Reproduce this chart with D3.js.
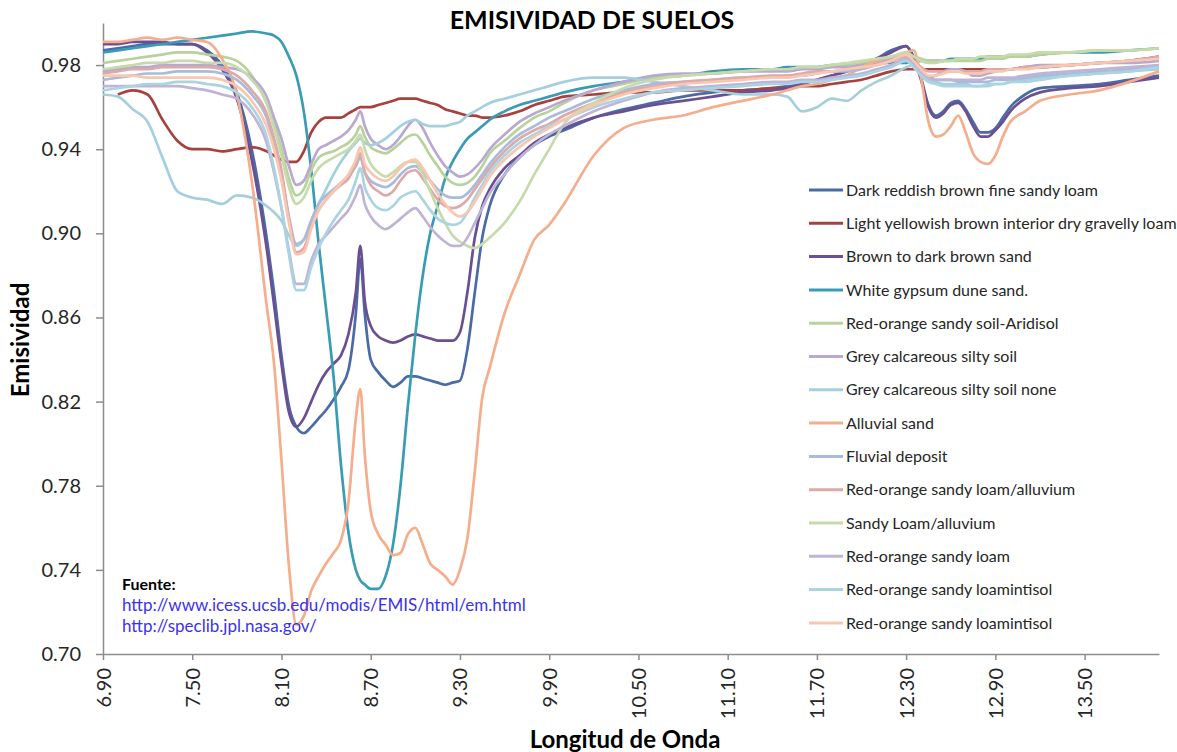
<!DOCTYPE html>
<html>
<head>
<meta charset="utf-8">
<script src="https://cdn.jsdelivr.net/npm/d3@7"></script>
<style>
  body { margin: 0; background: #fff; }
  svg { display: block; }
  text { font-family: Lato, "Open Sans", sans-serif; }
</style>
</head>
<body>
<svg width="1177" height="752"></svg>
<script>
// wavelengths (micrometres) shared by every series
const wavelength = [
  6.9, 7.0, 7.1, 7.2, 7.3, 7.4, 7.5, 7.6, 7.7, 7.8, 7.9, 8.0,
  8.05, 8.1, 8.15, 8.2, 8.25, 8.3, 8.35, 8.4, 8.45, 8.5, 8.55, 8.6, 8.63, 8.66,
  8.7, 8.75, 8.8, 8.85, 8.9, 8.95, 9.0, 9.05, 9.1, 9.15, 9.2, 9.25, 9.3, 9.35, 9.4, 9.45, 9.5,
  9.6, 9.7, 9.8, 9.9, 10.0, 10.2, 10.4, 10.6, 10.8, 11.0, 11.2, 11.4,
  11.5, 11.6, 11.7, 11.8, 11.9, 12.0, 12.1, 12.2, 12.3,
  12.35, 12.4, 12.45, 12.5, 12.55, 12.6, 12.65, 12.7, 12.75, 12.8, 12.85, 12.9, 12.95,
  13.0, 13.1, 13.2, 13.4, 13.6, 13.8, 14.0
];

const darkReddishBrown = [
  .987,.988,.989,.990,.990,.990,.990,.987,.980,.967,.940,.898,
  .872,.842,.818,.808,.805,.808,.812,.816,.821,.827,.835,.862,.888,.862,
  .840,.834,.830,.827,.829,.832,.832,.831,.830,.829,.828,.829,.830,.845,.872,.898,.913,
  .928,.936,.942,.946,.949,.955,.959,.962,.965,.967,.968,.969,
  .970,.971,.973,.975,.977,.980,.983,.987,.989,
  .984,.974,.961,.956,.958,.962,.963,.959,.953,.948,.948,.950,.955,
  .960,.966,.969,.970,.971,.973,.975
];
const lightYellowishBrown = [
  null,.966,.968,.966,.954,.944,.940,.940,.939,.940,.941,.939,
  .937,.935,.934,.934,.939,.948,.953,.955,.955,.955,.957,.959,.960,.960,
  .960,.961,.962,.963,.964,.964,.964,.963,.962,.961,.959,.958,.957,.956,.956,.955,.955,
  .956,.958,.961,.963,.965,.966,.967,.967,.968,.968,.968,.969,
  .969,.970,.970,.971,.972,.973,.975,.977,.978,
  .978,.978,.978,.978,.978,.978,.978,.978,.978,.978,.978,.978,.978,
  .978,.979,.979,.980,.981,.982,.984
];
const brownDarkSand = [
  .990,.990,.991,.991,.991,.990,.990,.986,.978,.964,.935,.893,
  .866,.838,.815,.808,.812,.820,.828,.834,.838,.842,.852,.872,.894,.868,
  .856,.851,.849,.848,.849,.851,.852,.851,.850,.849,.849,.849,.853,.872,.898,.913,.921,
  .931,.937,.943,.947,.950,.955,.958,.961,.963,.965,.967,.968,
  .969,.971,.973,.975,.977,.980,.983,.986,.989,
  .983,.973,.960,.955,.957,.961,.962,.958,.951,.946,.946,.949,.953,
  .958,.964,.967,.969,.970,.972,.974
];
const whiteGypsum = [
  .986,.987,.988,.989,.990,.991,.992,.993,.994,.995,.996,.995,
  .994,.991,.984,.975,.958,.930,.895,.864,.832,.790,.758,.740,.735,.733,
  .731,.731,.737,.752,.780,.818,.852,.880,.900,.913,.926,.934,.940,.945,.948,.951,.954,
  .958,.961,.963,.965,.967,.970,.972,.974,.975,.977,.978,.978,
  .979,.979,.979,.980,.980,.980,.981,.981,.981,
  .982,.982,.982,.982,.982,.983,.983,.983,.983,.983,.984,.984,.984,
  .984,.984,.985,.986,.986,.987,.988
];
const aridisol = [
  .981,.982,.983,.984,.985,.986,.986,.985,.984,.982,.975,.962,
  .953,.940,.926,.918,.921,.930,.936,.938,.939,.941,.943,.947,.951,.946,
  .941,.939,.938,.940,.943,.946,.947,.943,.937,.932,.927,.924,.923,.924,.927,.932,.938,
  .944,.950,.955,.958,.962,.968,.971,.974,.975,.976,.977,.978,
  .978,.979,.979,.980,.980,.981,.982,.983,.985,
  .984,.983,.982,.982,.982,.982,.982,.982,.982,.982,.983,.983,.983,
  .984,.984,.985,.986,.987,.987,.988
];
const greyCalcareous = [
  .977,.978,.979,.979,.980,.980,.980,.980,.979,.978,.974,.965,
  .955,.945,.932,.923,.925,.933,.940,.942,.944,.946,.949,.954,.958,.951,
  .945,.942,.940,.942,.946,.951,.954,.950,.943,.937,.932,.929,.927,.928,.931,.935,.940,
  .947,.953,.957,.960,.963,.968,.972,.975,.976,.976,.977,.977,
  .977,.978,.978,.979,.979,.980,.981,.983,.985,
  .982,.978,.974,.975,.977,.978,.978,.977,.975,.975,.976,.977,.978,
  .978,.979,.980,.980,.981,.981,.982
];
const greyCalcareousNone = [
  .966,.965,.959,.953,.936,.920,.917,.916,.914,.918,.917,.913,
  .910,.906,.899,.894,.897,.906,.914,.921,.928,.934,.939,.943,.945,.943,
  .942,.943,.945,.948,.951,.953,.954,.952,.951,.951,.951,.952,.953,.956,.958,.960,.962,
  .964,.966,.968,.970,.972,.974,.974,.972,.970,.968,.966,.966,
  .965,.958,.960,.964,.963,.968,.972,.975,.979,
  .980,.976,.973,.972,.971,.971,.971,.971,.970,.970,.970,.971,.971,
  .972,.973,.974,.975,.976,.977,.978
];
const alluvialSand = [
  .991,.991,.992,.993,.992,.993,.992,.991,.983,.966,.925,.866,
  .838,.792,.742,.714,.718,.730,.737,.743,.748,.754,.772,.812,.826,.795,
  .768,.757,.752,.747,.748,.757,.760,.752,.743,.740,.737,.733,.740,.755,.787,.822,.836,
  .862,.880,.897,.904,.914,.937,.950,.954,.956,.960,.963,.966,
  .968,.970,.971,.973,.975,.979,.982,.984,.986,
  .987,.974,.953,.946,.947,.951,.956,.948,.938,.934,.933,.937,.946,
  .953,.958,.963,.966,.968,.972,.977
];
const fluvialDeposit = [
  .973,.974,.975,.976,.976,.977,.977,.977,.976,.973,.966,.955,
  .943,.928,.908,.895,.897,.906,.914,.918,.921,.924,.927,.932,.936,.929,
  .925,.923,.922,.924,.928,.931,.932,.929,.925,.921,.918,.917,.917,.919,.923,.928,.933,
  .941,.947,.951,.955,.958,.964,.968,.971,.972,.973,.974,.974,
  .975,.975,.976,.977,.977,.978,.980,.982,.984,
  .981,.977,.974,.973,.973,.973,.972,.972,.972,.972,.972,.973,.973,
  .973,.974,.975,.976,.977,.978,.980
];
const loamAlluvium = [
  .976,.977,.978,.978,.979,.979,.979,.979,.978,.975,.968,.957,
  .945,.930,.907,.891,.893,.903,.911,.916,.920,.923,.926,.933,.938,.929,
  .923,.920,.918,.920,.925,.929,.930,.926,.921,.916,.913,.912,.913,.916,.921,.926,.931,
  .939,.945,.949,.952,.956,.962,.967,.970,.972,.973,.974,.975,
  .975,.976,.977,.977,.978,.979,.980,.982,.984,
  .982,.979,.977,.977,.977,.977,.977,.977,.977,.977,.978,.978,.978,
  .978,.979,.979,.980,.981,.982,.984
];
const sandyLoamAlluvium = [
  .978,.979,.980,.981,.981,.982,.982,.981,.981,.979,.973,.962,
  .950,.937,.922,.914,.917,.925,.931,.934,.936,.938,.940,.944,.947,.940,
  .933,.929,.927,.929,.932,.934,.934,.928,.920,.912,.905,.899,.896,.894,.893,.895,.898,
  .905,.915,.928,.940,.952,.962,.969,.973,.975,.976,.977,.978,
  .978,.979,.979,.980,.981,.982,.983,.984,.986,
  .984,.982,.981,.981,.982,.982,.983,.983,.983,.984,.984,.984,.984,
  .985,.985,.986,.986,.987,.987,.988
];
const redOrangeLoam = [
  .970,.970,.970,.970,.970,.970,.969,.968,.966,.964,.957,.943,
  .929,.912,.892,.876,.876,.887,.895,.899,.903,.907,.911,.918,.923,.914,
  .908,.904,.902,.904,.907,.910,.912,.908,.903,.899,.896,.894,.894,.898,.905,.912,.919,
  .928,.936,.942,.947,.951,.958,.963,.967,.969,.970,.971,.972,
  .972,.973,.973,.974,.975,.976,.978,.980,.983,
  .980,.977,.974,.973,.973,.973,.973,.973,.973,.973,.974,.974,.974,
  .974,.975,.976,.977,.978,.979,.980
];
const loamIntisolA = [
  .968,.969,.970,.971,.971,.972,.972,.971,.970,.967,.960,.946,
  .931,.912,.890,.873,.873,.884,.893,.900,.906,.911,.916,.925,.931,.922,
  .916,.912,.911,.913,.917,.919,.920,.916,.911,.907,.905,.904,.905,.910,.917,.923,.929,
  .937,.943,.947,.951,.954,.960,.964,.967,.968,.969,.970,.971,
  .971,.972,.972,.973,.974,.975,.977,.979,.982,
  .979,.975,.972,.971,.970,.970,.970,.970,.970,.970,.971,.971,.971,
  .972,.972,.973,.975,.976,.977,.979
];
const loamIntisolB = [
  .975,.975,.975,.974,.974,.974,.974,.974,.973,.970,.963,.951,
  .940,.925,.905,.890,.891,.902,.911,.916,.920,.924,.928,.935,.941,.933,
  .929,.926,.925,.927,.931,.934,.935,.931,.925,.919,.914,.910,.908,.910,.915,.921,.927,
  .935,.941,.946,.950,.954,.961,.966,.969,.971,.972,.973,.974,
  .974,.975,.976,.977,.978,.979,.980,.982,.985,
  .982,.978,.975,.975,.976,.977,.977,.976,.976,.976,.977,.977,.977,
  .978,.978,.979,.980,.981,.982,.983
];

const seriesNames = [
  "Dark reddish brown fine sandy loam",
  "Light yellowish brown interior dry gravelly loam",
  "Brown to dark brown sand",
  "White gypsum dune sand.",
  "Red-orange sandy soil-Aridisol",
  "Grey calcareous silty soil",
  "Grey calcareous silty soil none",
  "Alluvial sand",
  "Fluvial deposit",
  "Red-orange sandy loam/alluvium",
  "Sandy Loam/alluvium",
  "Red-orange sandy loam",
  "Red-orange sandy loamintisol",
  "Red-orange sandy loamintisol"
];
const seriesValues = [
  darkReddishBrown, lightYellowishBrown, brownDarkSand, whiteGypsum,
  aridisol, greyCalcareous, greyCalcareousNone, alluvialSand,
  fluvialDeposit, loamAlluvium, sandyLoamAlluvium, redOrangeLoam,
  loamIntisolA, loamIntisolB
];
const seriesColors = [
  "#4a6aa8", "#a8403e", "#6a4f93", "#3a9bb5",
  "#b8d29c", "#b9a9d0", "#a5cfdc", "#f5ad8c",
  "#a9bbdb", "#dcaaa9", "#c6daac", "#c0b4d6",
  "#aad4e2", "#f9c6b0"
];

const yTicks = [0.70, 0.74, 0.78, 0.82, 0.86, 0.90, 0.94, 0.98];
const xTicks = [6.9, 7.5, 8.1, 8.7, 9.3, 9.9, 10.5, 11.1, 11.7, 12.3, 12.9, 13.5];

const svg = d3.select("svg");
svg.append("rect").attr("width", 1177).attr("height", 752).attr("fill", "#fff");

const x = d3.scaleLinear().domain([6.9, 14.0]).range([103, 1159]);
const y = d3.scaleLinear().domain([0.70, 1.00]).range([654, 23]);

const axisColor = "#8c8c8c";
const textColor = "#262626";

// y axis
const yAxis = svg.append("g")
  .attr("transform", "translate(103,0)")
  .call(d3.axisLeft(y).tickValues(yTicks).tickFormat(d3.format(".2f"))
    .tickSize(7).tickSizeOuter(0).tickPadding(15));
yAxis.select(".domain").attr("stroke", axisColor).attr("stroke-width", 1.5);
yAxis.selectAll(".tick line").attr("stroke", axisColor).attr("stroke-width", 1.5);
yAxis.selectAll(".tick text").attr("fill", textColor).attr("font-size", 20);

// x axis
const xAxis = svg.append("g")
  .attr("transform", "translate(0,654)")
  .call(d3.axisBottom(x).tickValues(xTicks).tickFormat(d3.format(".2f"))
    .tickSize(6).tickSizeOuter(0));
xAxis.select(".domain").attr("stroke", axisColor).attr("stroke-width", 1.5);
xAxis.selectAll(".tick line").attr("stroke", axisColor).attr("stroke-width", 1.5);
xAxis.selectAll(".tick text")
  .attr("fill", textColor).attr("font-size", 20)
  .attr("transform", "rotate(-90)")
  .attr("text-anchor", "end")
  .attr("x", -14).attr("y", 0).attr("dy", "0.35em");

// lines
const line = d3.line()
  .defined(d => d[1] != null)
  .x(d => x(d[0]))
  .y(d => y(d[1]))
  .curve(d3.curveMonotoneX);

svg.append("g").selectAll("path")
  .data(seriesValues)
  .join("path")
  .attr("fill", "none")
  .attr("stroke", (d, i) => seriesColors[i])
  .attr("stroke-width", 2.7)
  .attr("stroke-linejoin", "round")
  .attr("d", vals => line(wavelength.map((w, j) => [w, vals[j]])));

// legend
const legend = svg.append("g").selectAll("g")
  .data(seriesNames)
  .join("g")
  .attr("transform", (d, i) => `translate(809,${190 + i * 33.3})`);
legend.append("line")
  .attr("x1", 0).attr("x2", 34)
  .attr("stroke", (d, i) => seriesColors[i])
  .attr("stroke-width", 3);
legend.append("text")
  .attr("x", 37).attr("dy", "0.35em")
  .attr("font-size", 16).attr("fill", textColor)
  .text(d => d);

// titles
svg.append("text")
  .attr("x", 592).attr("y", 29)
  .attr("text-anchor", "middle")
  .attr("font-size", 25).attr("font-weight", "bold").attr("fill", "#000")
  .text("EMISIVIDAD DE SUELOS");

svg.append("text")
  .attr("transform", "translate(29,340) rotate(-90)")
  .attr("text-anchor", "middle")
  .attr("font-size", 24).attr("font-weight", "bold").attr("fill", "#000")
  .text("Emisividad");

svg.append("text")
  .attr("x", 625).attr("y", 748)
  .attr("text-anchor", "middle")
  .attr("font-size", 24).attr("font-weight", "bold").attr("fill", "#000")
  .text("Longitud de Onda");

// source note
svg.append("text")
  .attr("x", 122).attr("y", 590)
  .attr("font-size", 16).attr("font-weight", "bold").attr("fill", "#000")
  .text("Fuente:");
svg.append("text")
  .attr("x", 122).attr("y", 611)
  .attr("font-size", 17).attr("fill", "#3a32f0")
  .text("http://www.icess.ucsb.edu/modis/EMIS/html/em.html");
svg.append("text")
  .attr("x", 122).attr("y", 632)
  .attr("font-size", 17).attr("fill", "#3a32f0")
  .text("http://speclib.jpl.nasa.gov/");
</script>
</body>
</html>
